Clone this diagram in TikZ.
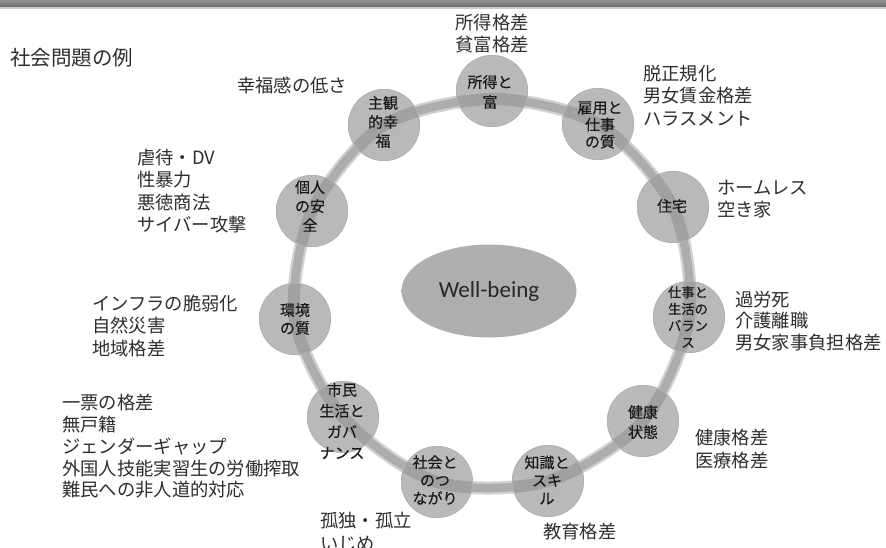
\documentclass[tikz,border=0pt]{standalone}
\usepackage{fontspec}
\setmainfont{Noto Sans CJK JP}
\newfontfamily\labfont[FakeBold=0.35]{Noto Sans CJK JP}
\newfontfamily\wbfont{Carlito}
\usetikzlibrary{shapes.geometric}
\pgfdeclareradialshading{orbshade}{\pgfpoint{0bp}{0bp}}{color(0bp)=(black!28); color(30bp)=(black!27); color(42bp)=(black!23); color(46bp)=(black!15); color(49bp)=(black!24); color(50bp)=(black!34)}
\pgfdeclareradialshading{ellshade}{\pgfpoint{0bp}{0bp}}{color(0bp)=(black!32); color(38bp)=(black!31); color(46bp)=(black!22); color(50bp)=(black!27)}
\tikzset{
  orb/.style={circle, minimum size=72pt, inner sep=0pt, shading=orbshade},
  lab/.style={inner sep=0pt, align=center, text=black!90, font=\labfont\fontsize{15}{19}\selectfont},
  issue/.style={inner sep=0pt, align=left, anchor=west, text=black!82, font=\fontsize{18.3}{22.5}\selectfont},
  bandouter/.style={line width=13pt, draw=black!18},
  bandinner/.style={line width=8.5pt, draw=black!32},
}
\begin{document}
\begin{tikzpicture}[x=1pt,y=-1pt]
\useasboundingbox (0,0) rectangle (886,547);
\fill[white] (0,0) rectangle (886,547);
% top bar
\shade[top color=black!42, bottom color=black!58] (0,0) rectangle (886,7);
\fill[black!20] (0,7) rectangle (886,8.5);

% ring positions
\coordinate (pA) at (492,91);
\coordinate (pB) at (598,124);
\coordinate (pC) at (673,207);
\coordinate (pD) at (689,317);
\coordinate (pE) at (643,421);
\coordinate (pF) at (548,481);
\coordinate (pG) at (437,482);
\coordinate (pH) at (343,417);
\coordinate (pI) at (295,319);
\coordinate (pJ) at (312,211);
\coordinate (pK) at (384,125);
\coordinate (rA) at (492,99);

% ring band
\draw[bandouter] plot[smooth cycle] coordinates {(rA) (pB) (pC) (pD) (pE) (pF) (pG) (pH) (pI) (pJ) (pK)};
\draw[bandinner] plot[smooth cycle] coordinates {(rA) (pB) (pC) (pD) (pE) (pF) (pG) (pH) (pI) (pJ) (pK)};

% circles
\node[orb] (A) at (pA) {};
\node[orb] (B) at (pB) {};
\node[orb] (C) at (pC) {};
\node[orb] (D) at (pD) {};
\node[orb] (E) at (pE) {};
\node[orb] (F) at (pF) {};
\node[orb] (G) at (pG) {};
\node[orb] (H) at (pH) {};
\node[orb] (I) at (pI) {};
\node[orb] (J) at (pJ) {};
\node[orb] (K) at (pK) {};

% band seen through the circles
\begin{scope}
\clip (pA) circle (35.5) (pB) circle (35.5) (pC) circle (35.5) (pD) circle (35.5) (pE) circle (35.5) (pF) circle (35.5) (pG) circle (35.5) (pH) circle (35.5) (pI) circle (35.5) (pJ) circle (35.5) (pK) circle (35.5);
\draw[line width=12pt, draw=black, draw opacity=0.13] plot[smooth cycle] coordinates {(rA) (pB) (pC) (pD) (pE) (pF) (pG) (pH) (pI) (pJ) (pK)};
\end{scope}
% circle rims
\foreach \p in {pA,pB,pC,pD,pE,pF,pG,pH,pI,pJ,pK}
  \draw[black!32, line width=0.8pt, draw opacity=0.7] (\p) circle (35.6);

% circle labels
\node[lab, font=\labfont\fontsize{15}{20}\selectfont] (tA) at (490,92) {所得と\\富};
\node[lab, font=\labfont\fontsize{15}{17}\selectfont] (tB) at (600,125) {雇用と\\仕事\\の質};
\node[lab] (tC) at (672,206) {住宅};
\node[lab, font=\labfont\fontsize{13.3}{16.7}\selectfont] (tD) at (688,317) {仕事と\\生活の\\バラン\\ス};
\node[lab, font=\labfont\fontsize{15}{20}\selectfont] (tE) at (643,422) {健康\\状態};
\node[lab, font=\labfont\fontsize{15}{18}\selectfont] (tF) at (547,480) {知識と\\スキ\\ル};
\node[lab, font=\labfont\fontsize{15}{18}\selectfont] (tG) at (435,480) {社会と\\のつ\\ながり};
\node[lab, font=\labfont\fontsize{15}{21}\selectfont] (tH) at (342,421) {市民\\生活と\\ガバ\\ナンス};
\node[lab, font=\labfont\fontsize{15}{18}\selectfont] (tI) at (295,319) {環境\\の質};
\node[lab, font=\labfont\fontsize{15}{19}\selectfont] (tJ) at (310,206) {個人\\の安\\全};
\node[lab, font=\labfont\fontsize{15}{19}\selectfont] (tK) at (383,122) {主観\\的幸\\福};

% centre ellipse
\node[ellipse, minimum width=175pt, minimum height=93pt, inner sep=0pt, shading=ellshade, text=black!85, font=\wbfont\fontsize{23}{26}\selectfont] (W) at (489,291) {Well-being};

% issues
\node[issue, font=\fontsize{20.5}{24}\selectfont] (title) at (10,58) {社会問題の例};
\node[issue, anchor=center, align=center] (oA) at (492,33.5) {所得格差\\貧富格差};
\node[issue] (oB) at (643,95.5) {脱正規化\\男女賃金格差\\ハラスメント};
\node[issue] (oC) at (717,199) {ホームレス\\空き家};
\node[issue, font=\fontsize{18.3}{21.5}\selectfont] (oD) at (735,321) {過労死\\介護離職\\男女家事負担格差};
\node[issue] (oE) at (695,449) {健康格差\\医療格差};
\node[issue] (oF) at (543,532) {教育格差};
\node[issue] (oG) at (320,532) {孤独・孤立\\いじめ};
\node[issue, font=\fontsize{18.3}{21.8}\selectfont] (oH) at (62,446.5) {一票の格差\\無戸籍\\ジェンダーギャップ\\外国人技能実習生の労働搾取\\難民への非人道的対応};
\node[issue] (oI) at (92,325.5) {インフラの脆弱化\\自然災害\\地域格差};
\node[issue] (oJ) at (137,191) {虐待・DV\\性暴力\\悪徳商法\\サイバー攻撃};
\node[issue] (oK) at (237,85) {幸福感の低さ};
\end{tikzpicture}
\end{document}
